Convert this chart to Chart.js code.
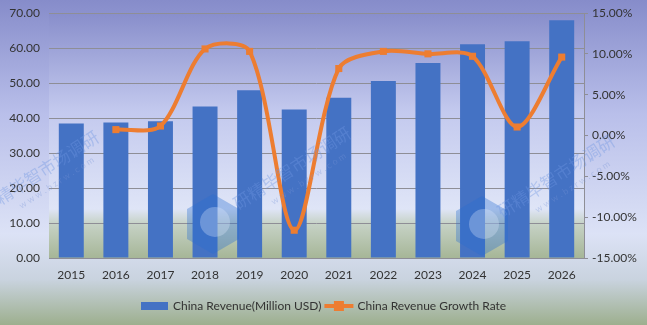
<!DOCTYPE html>
<html>
<head>
<meta charset="utf-8">
<script src="https://cdn.jsdelivr.net/npm/chart.js@4/dist/chart.umd.min.js"></script>
<style>
html,body{margin:0;padding:0;background:#c8cdee;}
#wrap{width:647px;height:325px;position:relative;}
</style>
</head>
<body>
<div id="wrap"><canvas id="c" width="647" height="325"></canvas></div>
<script>
const years = ['2015','2016','2017','2018','2019','2020','2021','2022','2023','2024','2025','2026'];
const revenue = [38.4, 38.7, 39.1, 43.3, 47.9, 42.4, 45.8, 50.6, 55.7, 61.1, 61.9, 67.9];
const growthRate = [null, 0.72, 1.16, 10.6, 10.3, -11.6, 8.2, 10.3, 10.0, 9.7, 1.04, 9.6];
const seriesNames = ['China Revenue(Million USD)', 'China Revenue Growth Rate'];
const watermarkText = '研精毕智市场调研';
const watermarkUrl = 'www.bzrw.com';

const BLUE = '#4472C4';
const ORANGE = '#ED7D31';
const GRID = '#8e8e96';
const TXT = '#333333';
const FONT = 'Lato, "Liberation Sans", sans-serif';

const bgPlugin = {
  id: 'bg',
  beforeDraw(chart) {
    const ctx = chart.ctx, W = chart.width, H = chart.height, a = chart.chartArea;
    ctx.save();
    let g = ctx.createLinearGradient(0, 0, 0, H);
    g.addColorStop(0, '#868cca');
    g.addColorStop(0.35, '#b9bfea');
    g.addColorStop(0.72, '#dce2f6');
    g.addColorStop(0.86, '#c9d3df');
    g.addColorStop(1, '#9daf8e');
    ctx.fillStyle = g;
    ctx.fillRect(0, 0, W, H);
    g = ctx.createLinearGradient(0, a.top, 0, a.bottom);
    g.addColorStop(0, '#888ecb');
    g.addColorStop(0.4, '#c3c9ee');
    g.addColorStop(0.8, '#dfe5f7');
    g.addColorStop(0.86, '#c6d2c6');
    g.addColorStop(1, '#a6b697');
    ctx.fillStyle = g;
    ctx.fillRect(a.left, a.top, a.right - a.left, a.bottom - a.top);
    ctx.restore();
  }
};

const wmPlugin = {
  id: 'wm',
  afterDatasetsDraw(chart) {
    const ctx = chart.ctx;
    ctx.save();
    [[213, 224], [482, 226]].forEach(([cx, cy]) => {
      ctx.beginPath();
      for (let i = 0; i < 6; i++) {
        const ang = Math.PI / 6 + i * Math.PI / 3;
        const x = cx + 30 * Math.cos(ang), y = cy + 30 * Math.sin(ang);
        if (i === 0) ctx.moveTo(x, y); else ctx.lineTo(x, y);
      }
      ctx.closePath();
      ctx.fillStyle = 'rgba(40,110,210,0.35)';
      ctx.fill();
      ctx.beginPath();
      ctx.arc(cx + 2, cy - 2, 15, 0, Math.PI * 2);
      ctx.fillStyle = 'rgba(225,235,255,0.3)';
      ctx.fill();
    });
    [[40, 172], [292, 168], [556, 176]].forEach(([cx, cy]) => {
      ctx.save();
      ctx.translate(cx, cy);
      ctx.rotate(-33 * Math.PI / 180);
      ctx.textAlign = 'center';
      ctx.textBaseline = 'middle';
      ctx.font = '17px "Noto Sans CJK SC"';
      ctx.fillStyle = 'rgba(110,150,225,0.38)';
      ctx.fillText(watermarkText, 0, 0);
      ctx.font = '9px ' + FONT;
      ctx.fillStyle = 'rgba(120,150,215,0.35)';
      ctx.fillText(watermarkUrl.split('').join(' '), 8, 18);
      ctx.restore();
    });
    ctx.restore();
  }
};

const legendPlugin = {
  id: 'customLegend',
  afterDraw(chart) {
    const ctx = chart.ctx;
    ctx.save();
    ctx.font = '12px ' + FONT;
    ctx.textBaseline = 'middle';
    const y = 306;
    const w1 = ctx.measureText(seriesNames[0]).width;
    const w2 = ctx.measureText(seriesNames[1]).width;
    const total = 27 + 5 + w1 + 3 + 29 + 4 + w2;
    let x = Math.round(chart.width / 2 - total / 2);
    ctx.fillStyle = BLUE;
    ctx.fillRect(x, y - 4, 27, 8);
    x += 32;
    ctx.fillStyle = TXT;
    ctx.fillText(seriesNames[0], x, y);
    x += w1 + 3;
    ctx.strokeStyle = ORANGE;
    ctx.lineWidth = 4;
    ctx.beginPath();
    ctx.moveTo(x, y);
    ctx.lineTo(x + 29, y);
    ctx.stroke();
    ctx.fillStyle = ORANGE;
    ctx.fillRect(x + 14.5 - 5, y - 5, 10, 10);
    x += 33;
    ctx.fillStyle = TXT;
    ctx.fillText(seriesNames[1], x, y);
    ctx.restore();
  }
};

new Chart(document.getElementById('c'), {
  data: {
    labels: years,
    datasets: [
      {
        type: 'line',
        label: seriesNames[1],
        data: growthRate,
        yAxisID: 'y1',
        borderColor: ORANGE,
        backgroundColor: ORANGE,
        borderWidth: 4,
        tension: 0.3,
        pointStyle: 'rect',
        pointRadius: 5,
        pointBorderWidth: 0,
        pointBackgroundColor: ORANGE,
        order: 0
      },
      {
        type: 'bar',
        label: seriesNames[0],
        data: revenue,
        yAxisID: 'y',
        backgroundColor: BLUE,
        borderWidth: 0,
        categoryPercentage: 0.56,
        barPercentage: 1,
        order: 1
      }
    ]
  },
  options: {
    responsive: false,
    animation: false,
    devicePixelRatio: 1,
    layout: { padding: { top: 13, bottom: 40, left: 0, right: 0 } },
    plugins: { legend: { display: false }, tooltip: { enabled: false } },
    scales: {
      x: {
        grid: { display: false, drawTicks: false },
        border: { display: true, color: GRID, width: 1 },
        ticks: { color: TXT, font: { family: FONT, size: 12 }, padding: 10, maxRotation: 0 },
        afterFit(s) { s.height = 27; }
      },
      y: {
        position: 'left',
        min: 0, max: 70,
        grid: { color: GRID, lineWidth: 1, drawTicks: true, tickLength: 9, tickColor: 'rgba(0,0,0,0)' },
        border: { display: false },
        ticks: { stepSize: 10, color: TXT, font: { family: FONT, size: 12 }, padding: 0,
          callback: v => v.toFixed(2) },
        afterFit(s) { s.width = 49; }
      },
      y1: {
        position: 'right',
        min: -15, max: 15,
        grid: { drawOnChartArea: false, color: GRID, tickLength: 4, drawTicks: true },
        border: { display: true, color: GRID, width: 1 },
        ticks: { stepSize: 5, color: TXT, font: { family: FONT, size: 12 }, padding: 4,
          callback: v => v.toFixed(2) + '%' },
        afterFit(s) { s.width = 63; }
      }
    }
  },
  plugins: [bgPlugin, wmPlugin, legendPlugin]
});
</script>
</body>
</html>
